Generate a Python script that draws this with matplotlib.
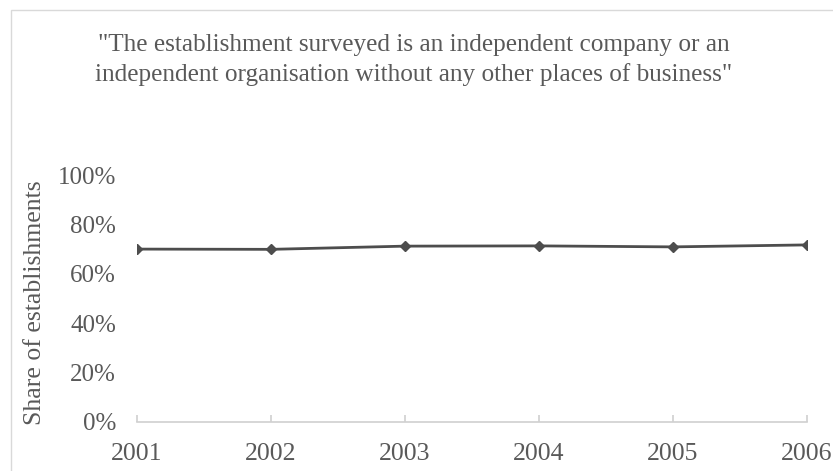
import numpy as np
import matplotlib
matplotlib.use('Agg')
import matplotlib.pyplot as plt
from matplotlib.patches import Rectangle
from matplotlib.ticker import PercentFormatter

years = ['2001', '2002', '2003', '2004', '2005', '2006']
share = [0.700, 0.699, 0.712, 0.713, 0.709, 0.717]

plt.rcParams['font.family'] = ['Liberation Serif', 'DejaVu Serif']
txt = '#595959'

W, H = 833, 471
fig = plt.figure(figsize=(W/100, H/100), dpi=100)
ax = fig.add_axes([137/W, 1-422/H, (807-137)/W, (422-175)/H])

# chart area border (clipped at right and bottom in the original)
fig.patches.append(Rectangle((11/W, -0.1), 1.1, 1-10/H+0.1, transform=fig.transFigure,
                             fill=False, edgecolor='#d9d9d9', lw=1))

x = np.arange(len(years))
ax.plot(x, share, color='#4d4d4d', lw=2, marker='D', ms=5.5, mfc='#4d4d4d', mec='#4d4d4d')

ax.set_xlim(0, len(years)-1)
ax.set_ylim(0, 1)
ax.set_yticks(np.arange(0, 1.01, 0.2))
ax.yaxis.set_major_formatter(PercentFormatter(1.0, decimals=0))
ax.set_xticks(x)
ax.set_xticklabels(years)

for s in ['top', 'right', 'left']:
    ax.spines[s].set_visible(False)
ax.spines['bottom'].set_color('#d0d0d0')
ax.spines['bottom'].set_linewidth(1.2)
ax.spines['bottom'].set_clip_on(False)

ax.tick_params(axis='x', direction='in', length=5, color='#d0d0d0', width=1.2,
               labelsize=18.5, labelcolor=txt, pad=15)
ax.tick_params(axis='y', length=0, labelsize=18, labelcolor=txt, pad=15)
ax.set_ylabel('Share of establishments', fontsize=18.5, color=txt, va='center')
ax.yaxis.set_label_coords((35-137)/670, (422-302.5)/247)

fig.text(414/W, 1-60/H,
         '"The establishment surveyed is an independent company or an\n'
         'independent organisation without any other places of business"',
         ha='center', va='center', fontsize=18.2, color=txt, linespacing=1.36)

fig.savefig('out.png', dpi=100)
